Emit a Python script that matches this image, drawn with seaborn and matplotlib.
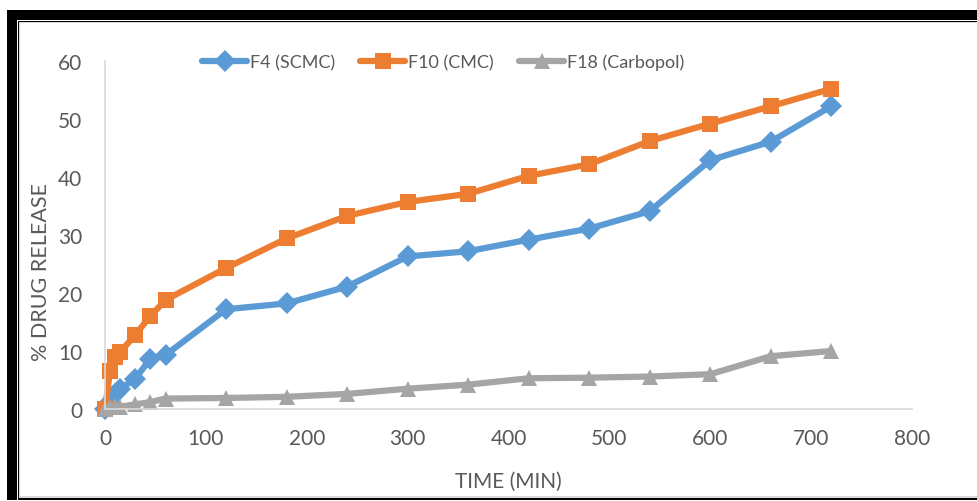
import matplotlib
matplotlib.use("Agg")
import matplotlib.pyplot as plt
import seaborn as sns
import pandas as pd
from matplotlib.patches import Rectangle

time_min = [0, 5, 10, 15, 30, 45, 60, 120, 180, 240, 300, 360, 420, 480, 540, 600, 660, 720]
f4_scmc = [0, 1.2, 2.6, 3.5, 5.2, 8.7, 9.3, 17.2, 18.2, 21.1, 26.3, 27.2, 29.2, 31.1, 34.1, 42.9, 46.1, 52.2]
f10_cmc = [0, 6.6, 9.0, 9.8, 12.8, 16.0, 18.8, 24.3, 29.4, 33.3, 35.7, 37.1, 40.2, 42.2, 46.2, 49.2, 52.2, 55.2]
f18_carbopol = [0, 0.3, 0.5, 0.4, 0.8, 1.2, 1.8, 1.9, 2.1, 2.6, 3.5, 4.2, 5.3, 5.4, 5.6, 6.0, 9.1, 10.0]
series_names = ["F4 (SCMC)", "F10 (CMC)", "F18 (Carbopol)"]
x_ticks = [0, 100, 200, 300, 400, 500, 600, 700, 800]
y_ticks = [0, 10, 20, 30, 40, 50, 60]

colors = ["#5B9BD5", "#ED7D31", "#A5A5A5"]
markers = ["D", "s", "^"]

rows = []
for name, vals in zip(series_names, [f4_scmc, f10_cmc, f18_carbopol]):
    for t, v in zip(time_min, vals):
        rows.append({"time": t, "release": v, "series": name})
df = pd.DataFrame(rows)

sns.set_theme(style="white")
plt.rcParams["font.family"] = ["Lato", "DejaVu Sans"]

W, H = 977, 502
fig = plt.figure(figsize=(W / 100, H / 100), dpi=100)
ax = fig.add_axes([105 / W, (H - 410) / H, (912 - 105) / W, (410 - 62) / H])

sns.lineplot(data=df, x="time", y="release", hue="series", style="series",
             hue_order=series_names, style_order=series_names,
             palette=colors, markers=markers, dashes=False, linewidth=4.5,
             markersize=11, markeredgewidth=0, ax=ax, legend=True)
for ln in ax.lines:
    ln.set_clip_on(False)
    ln.set_solid_joinstyle("round")
    ln.set_solid_capstyle("round")

ax.set_xlim(0, 800)
ax.set_ylim(0, 60)
ax.set_xticks(x_ticks)
ax.set_yticks(y_ticks)
ax.tick_params(axis="both", length=0, labelsize=15, labelcolor="#595959")
ax.tick_params(axis="y", pad=16.5)
ax.tick_params(axis="x", pad=14)
for s in ["top", "right"]:
    ax.spines[s].set_visible(False)
for s in ["left", "bottom"]:
    ax.spines[s].set_color("#D9D9D9")
    ax.spines[s].set_linewidth(1.2)
ax.set_xlabel("TIME (MIN)", fontsize=15, color="#595959", labelpad=16)
ax.set_ylabel("% DRUG RELEASE", fontsize=15.5, color="#595959")
ax.yaxis.set_label_coords((51 - 105) / 807, (410 - 272) / 348)

handles, labels = ax.get_legend_handles_labels()
leg = ax.legend(handles, labels, loc="center", bbox_to_anchor=(443 / W, (H - 63) / H),
                bbox_transform=fig.transFigure, ncol=3, frameon=False, fontsize=13,
                handlelength=2.5, columnspacing=1.4, handletextpad=0.15)
for t in leg.get_texts():
    t.set_color("#595959")

# frame around chart
def rect(x0, y0, x1, y1, color):
    fig.patches.append(Rectangle((x0 / W, (H - y1) / H), (x1 - x0) / W, (y1 - y0) / H,
                                 transform=fig.transFigure, facecolor=color,
                                 edgecolor="none", zorder=-5))
rect(7, 11, W + 5, 21, "black")
rect(7, 11, 17, 501, "black")
rect(18, 22, W + 5, 23, "black")
rect(18, 22, 19, 501, "black")
rect(19, 23, W + 5, 24, "#D9D9D9")
rect(19, 23, 20, 499, "#D9D9D9")
rect(18, 499, W + 5, 501, "black")
rect(19, 497, W + 5, 499, "#D9D9D9")

fig.savefig("out.png", dpi=100)
